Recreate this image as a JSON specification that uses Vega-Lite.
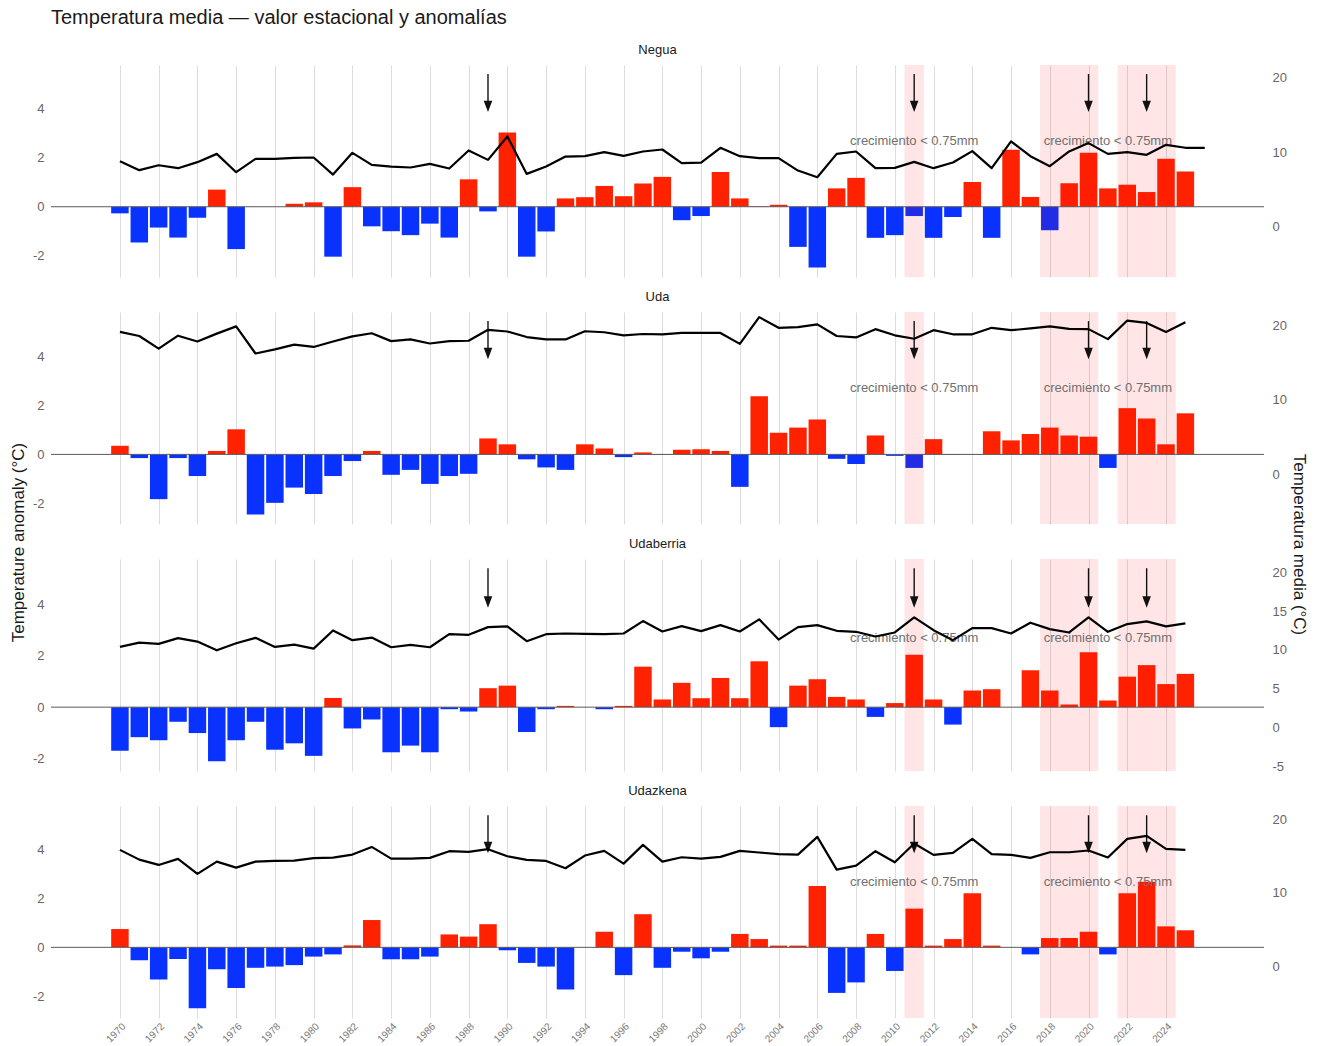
{
  "$schema": "https://vega.github.io/schema/vega-lite/v6.json",
  "padding": {"left": 9, "top": 8, "right": 5, "bottom": 2},
  "title": {"text": "Temperatura media — valor estacional y anomalías", "anchor": "start", "fontSize": 20, "fontWeight": "normal", "color": "#1a1a1a", "dx": 42, "offset": 16},
  "config": {
    "font": "Liberation Sans",
    "view": {"stroke": null},
    "title": {"fontSize": 13, "fontWeight": "normal", "color": "#1a1a1a", "offset": 8},
    "axis": {"labelFont": "Liberation Sans", "titleFont": "Liberation Sans"}
  },
  "spacing": 35,
  "bounds": "flush",
  "datasets": {
    "series": [
      {"s":"Negua","yr":1970,"a":-0.27,"t":8.78},{"s":"Negua","yr":1971,"a":-1.46,"t":7.57},{"s":"Negua","yr":1972,"a":-0.85,"t":8.24},{"s":"Negua","yr":1973,"a":-1.26,"t":7.84},{"s":"Negua","yr":1974,"a":-0.45,"t":8.65},{"s":"Negua","yr":1975,"a":0.70,"t":9.77},{"s":"Negua","yr":1976,"a":-1.73,"t":7.30},{"s":"Negua","yr":1977,"a":0.0,"t":9.10},{"s":"Negua","yr":1978,"a":0.0,"t":9.10},{"s":"Negua","yr":1979,"a":0.12,"t":9.23},
      {"s":"Negua","yr":1980,"a":0.18,"t":9.28},{"s":"Negua","yr":1981,"a":-2.04,"t":6.98},{"s":"Negua","yr":1982,"a":0.80,"t":9.91},{"s":"Negua","yr":1983,"a":-0.80,"t":8.29},{"s":"Negua","yr":1984,"a":-1.00,"t":8.06},{"s":"Negua","yr":1985,"a":-1.16,"t":7.93},{"s":"Negua","yr":1986,"a":-0.69,"t":8.42},{"s":"Negua","yr":1987,"a":-1.26,"t":7.79},{"s":"Negua","yr":1988,"a":1.12,"t":10.23},{"s":"Negua","yr":1989,"a":-0.19,"t":8.96},
      {"s":"Negua","yr":1990,"a":3.03,"t":12.12},{"s":"Negua","yr":1991,"a":-2.04,"t":7.07},{"s":"Negua","yr":1992,"a":-1.01,"t":8.06},{"s":"Negua","yr":1993,"a":0.34,"t":9.41},{"s":"Negua","yr":1994,"a":0.39,"t":9.46},{"s":"Negua","yr":1995,"a":0.85,"t":10.00},{"s":"Negua","yr":1996,"a":0.43,"t":9.50},{"s":"Negua","yr":1997,"a":0.95,"t":10.09},{"s":"Negua","yr":1998,"a":1.22,"t":10.36},{"s":"Negua","yr":1999,"a":-0.55,"t":8.51},
      {"s":"Negua","yr":2000,"a":-0.38,"t":8.60},{"s":"Negua","yr":2001,"a":1.42,"t":10.59},{"s":"Negua","yr":2002,"a":0.34,"t":9.46},{"s":"Negua","yr":2003,"a":0.02,"t":9.19},{"s":"Negua","yr":2004,"a":0.08,"t":9.19},{"s":"Negua","yr":2005,"a":-1.64,"t":7.52},{"s":"Negua","yr":2006,"a":-2.48,"t":6.62},{"s":"Negua","yr":2007,"a":0.75,"t":9.77},{"s":"Negua","yr":2008,"a":1.18,"t":10.09},{"s":"Negua","yr":2009,"a":-1.27,"t":7.84},
      {"s":"Negua","yr":2010,"a":-1.16,"t":7.88},{"s":"Negua","yr":2011,"a":-0.38,"t":8.69},{"s":"Negua","yr":2012,"a":-1.27,"t":7.84},{"s":"Negua","yr":2013,"a":-0.42,"t":8.60},{"s":"Negua","yr":2014,"a":1.01,"t":10.14},{"s":"Negua","yr":2015,"a":-1.27,"t":7.84},{"s":"Negua","yr":2016,"a":2.33,"t":11.44},{"s":"Negua","yr":2017,"a":0.40,"t":9.46},{"s":"Negua","yr":2018,"a":-0.96,"t":8.11},{"s":"Negua","yr":2019,"a":0.96,"t":10.09},
      {"s":"Negua","yr":2020,"a":2.21,"t":11.22},{"s":"Negua","yr":2021,"a":0.75,"t":9.77},{"s":"Negua","yr":2022,"a":0.90,"t":10.00},{"s":"Negua","yr":2023,"a":0.60,"t":9.64},{"s":"Negua","yr":2024,"a":1.96,"t":10.99},{"s":"Negua","yr":2025,"a":1.44,"t":10.59},{"s":"Negua","yr":2026,"a":null,"t":10.59},

      {"s":"Uda","yr":1970,"a":0.35,"t":19.08},{"s":"Uda","yr":1971,"a":-0.15,"t":18.53},{"s":"Uda","yr":1972,"a":-1.82,"t":16.83},{"s":"Uda","yr":1973,"a":-0.15,"t":18.57},{"s":"Uda","yr":1974,"a":-0.88,"t":17.79},{"s":"Uda","yr":1975,"a":0.14,"t":18.85},{"s":"Uda","yr":1976,"a":1.02,"t":19.82},{"s":"Uda","yr":1977,"a":-2.44,"t":16.18},{"s":"Uda","yr":1978,"a":-1.97,"t":16.74},{"s":"Uda","yr":1979,"a":-1.35,"t":17.38},
      {"s":"Uda","yr":1980,"a":-1.61,"t":17.06},{"s":"Uda","yr":1981,"a":-0.88,"t":17.79},{"s":"Uda","yr":1982,"a":-0.27,"t":18.48},{"s":"Uda","yr":1983,"a":0.14,"t":18.90},{"s":"Uda","yr":1984,"a":-0.83,"t":17.84},{"s":"Uda","yr":1985,"a":-0.63,"t":18.07},{"s":"Uda","yr":1986,"a":-1.20,"t":17.52},{"s":"Uda","yr":1987,"a":-0.88,"t":17.84},{"s":"Uda","yr":1988,"a":-0.79,"t":17.89},{"s":"Uda","yr":1989,"a":0.65,"t":19.36},
      {"s":"Uda","yr":1990,"a":0.41,"t":19.13},{"s":"Uda","yr":1991,"a":-0.20,"t":18.39},{"s":"Uda","yr":1992,"a":-0.53,"t":18.07},{"s":"Uda","yr":1993,"a":-0.63,"t":18.07},{"s":"Uda","yr":1994,"a":0.41,"t":19.17},{"s":"Uda","yr":1995,"a":0.24,"t":19.03},{"s":"Uda","yr":1996,"a":-0.11,"t":18.62},{"s":"Uda","yr":1997,"a":0.08,"t":18.80},{"s":"Uda","yr":1998,"a":-0.02,"t":18.76},{"s":"Uda","yr":1999,"a":0.19,"t":18.94},
      {"s":"Uda","yr":2000,"a":0.21,"t":18.94},{"s":"Uda","yr":2001,"a":0.14,"t":18.94},{"s":"Uda","yr":2002,"a":-1.32,"t":17.47},{"s":"Uda","yr":2003,"a":2.36,"t":21.06},{"s":"Uda","yr":2004,"a":0.88,"t":19.63},{"s":"Uda","yr":2005,"a":1.09,"t":19.72},{"s":"Uda","yr":2006,"a":1.42,"t":20.09},{"s":"Uda","yr":2007,"a":-0.18,"t":18.53},{"s":"Uda","yr":2008,"a":-0.39,"t":18.34},{"s":"Uda","yr":2009,"a":0.77,"t":19.45},
      {"s":"Uda","yr":2010,"a":-0.06,"t":18.62},{"s":"Uda","yr":2011,"a":-0.55,"t":18.16},{"s":"Uda","yr":2012,"a":0.62,"t":19.31},{"s":"Uda","yr":2013,"a":-0.02,"t":18.76},{"s":"Uda","yr":2014,"a":0.01,"t":18.76},{"s":"Uda","yr":2015,"a":0.94,"t":19.63},{"s":"Uda","yr":2016,"a":0.57,"t":19.31},{"s":"Uda","yr":2017,"a":0.83,"t":19.54},{"s":"Uda","yr":2018,"a":1.09,"t":19.82},{"s":"Uda","yr":2019,"a":0.77,"t":19.49},
      {"s":"Uda","yr":2020,"a":0.72,"t":19.45},{"s":"Uda","yr":2021,"a":-0.55,"t":18.11},{"s":"Uda","yr":2022,"a":1.88,"t":20.60},{"s":"Uda","yr":2023,"a":1.46,"t":20.28},{"s":"Uda","yr":2024,"a":0.41,"t":19.08},{"s":"Uda","yr":2025,"a":1.67,"t":20.37},

      {"s":"Udaberria","yr":1970,"a":-1.70,"t":10.39},{"s":"Udaberria","yr":1971,"a":-1.17,"t":10.95},{"s":"Udaberria","yr":1972,"a":-1.29,"t":10.78},{"s":"Udaberria","yr":1973,"a":-0.57,"t":11.52},{"s":"Udaberria","yr":1974,"a":-1.01,"t":11.08},{"s":"Udaberria","yr":1975,"a":-2.11,"t":9.96},{"s":"Udaberria","yr":1976,"a":-1.29,"t":10.87},{"s":"Udaberria","yr":1977,"a":-0.57,"t":11.56},{"s":"Udaberria","yr":1978,"a":-1.66,"t":10.39},{"s":"Udaberria","yr":1979,"a":-1.41,"t":10.69},
      {"s":"Udaberria","yr":1980,"a":-1.90,"t":10.17},{"s":"Udaberria","yr":1981,"a":0.36,"t":12.51},{"s":"Udaberria","yr":1982,"a":-0.83,"t":11.26},{"s":"Udaberria","yr":1983,"a":-0.48,"t":11.60},{"s":"Udaberria","yr":1984,"a":-1.76,"t":10.35},{"s":"Udaberria","yr":1985,"a":-1.50,"t":10.65},{"s":"Udaberria","yr":1986,"a":-1.76,"t":10.35},{"s":"Udaberria","yr":1987,"a":-0.08,"t":12.03},{"s":"Udaberria","yr":1988,"a":-0.17,"t":11.95},{"s":"Udaberria","yr":1989,"a":0.74,"t":12.94},
      {"s":"Udaberria","yr":1990,"a":0.84,"t":13.03},{"s":"Udaberria","yr":1991,"a":-0.97,"t":11.13},{"s":"Udaberria","yr":1992,"a":-0.08,"t":12.03},{"s":"Udaberria","yr":1993,"a":0.05,"t":12.12},{"s":"Udaberria","yr":1994,"a":0.0,"t":12.08},{"s":"Udaberria","yr":1995,"a":-0.08,"t":12.03},{"s":"Udaberria","yr":1996,"a":0.05,"t":12.12},{"s":"Udaberria","yr":1997,"a":1.58,"t":13.72},{"s":"Udaberria","yr":1998,"a":0.30,"t":12.38},{"s":"Udaberria","yr":1999,"a":0.95,"t":13.07},
      {"s":"Udaberria","yr":2000,"a":0.35,"t":12.42},{"s":"Udaberria","yr":2001,"a":1.14,"t":13.20},{"s":"Udaberria","yr":2002,"a":0.35,"t":12.38},{"s":"Udaberria","yr":2003,"a":1.79,"t":13.94},{"s":"Udaberria","yr":2004,"a":-0.78,"t":11.34},{"s":"Udaberria","yr":2005,"a":0.84,"t":12.94},{"s":"Udaberria","yr":2006,"a":1.09,"t":13.20},{"s":"Udaberria","yr":2007,"a":0.40,"t":12.47},{"s":"Udaberria","yr":2008,"a":0.30,"t":12.34},{"s":"Udaberria","yr":2009,"a":-0.38,"t":11.73},
      {"s":"Udaberria","yr":2010,"a":0.16,"t":12.25},{"s":"Udaberria","yr":2011,"a":2.04,"t":14.20},{"s":"Udaberria","yr":2012,"a":0.30,"t":12.55},{"s":"Udaberria","yr":2013,"a":-0.68,"t":11.26},{"s":"Udaberria","yr":2014,"a":0.65,"t":12.81},{"s":"Udaberria","yr":2015,"a":0.70,"t":12.81},{"s":"Udaberria","yr":2016,"a":0.0,"t":12.12},{"s":"Udaberria","yr":2017,"a":1.44,"t":13.51},{"s":"Udaberria","yr":2018,"a":0.65,"t":12.68},{"s":"Udaberria","yr":2019,"a":0.10,"t":12.25},
      {"s":"Udaberria","yr":2020,"a":2.14,"t":14.20},{"s":"Udaberria","yr":2021,"a":0.26,"t":12.34},{"s":"Udaberria","yr":2022,"a":1.19,"t":13.33},{"s":"Udaberria","yr":2023,"a":1.64,"t":13.68},{"s":"Udaberria","yr":2024,"a":0.90,"t":13.03},{"s":"Udaberria","yr":2025,"a":1.30,"t":13.42},

      {"s":"Udazkena","yr":1970,"a":0.75,"t":15.84},{"s":"Udazkena","yr":1971,"a":-0.53,"t":14.52},{"s":"Udazkena","yr":1972,"a":-1.32,"t":13.80},{"s":"Udazkena","yr":1973,"a":-0.48,"t":14.62},{"s":"Udazkena","yr":1974,"a":-2.50,"t":12.58},{"s":"Udazkena","yr":1975,"a":-0.90,"t":14.25},{"s":"Udazkena","yr":1976,"a":-1.67,"t":13.44},{"s":"Udazkena","yr":1977,"a":-0.84,"t":14.25},{"s":"Udazkena","yr":1978,"a":-0.79,"t":14.34},{"s":"Udazkena","yr":1979,"a":-0.73,"t":14.39},
      {"s":"Udazkena","yr":1980,"a":-0.38,"t":14.71},{"s":"Udazkena","yr":1981,"a":-0.29,"t":14.80},{"s":"Udazkena","yr":1982,"a":0.08,"t":15.20},{"s":"Udazkena","yr":1983,"a":1.12,"t":16.24},{"s":"Udazkena","yr":1984,"a":-0.49,"t":14.66},{"s":"Udazkena","yr":1985,"a":-0.49,"t":14.66},{"s":"Udazkena","yr":1986,"a":-0.38,"t":14.75},{"s":"Udazkena","yr":1987,"a":0.53,"t":15.66},{"s":"Udazkena","yr":1988,"a":0.44,"t":15.57},{"s":"Udazkena","yr":1989,"a":0.95,"t":15.93},
      {"s":"Udazkena","yr":1990,"a":-0.12,"t":14.98},{"s":"Udazkena","yr":1991,"a":-0.64,"t":14.48},{"s":"Udazkena","yr":1992,"a":-0.79,"t":14.34},{"s":"Udazkena","yr":1993,"a":-1.73,"t":13.35},{"s":"Udazkena","yr":1994,"a":0.0,"t":15.07},{"s":"Udazkena","yr":1995,"a":0.64,"t":15.70},{"s":"Udazkena","yr":1996,"a":-1.14,"t":13.98},{"s":"Udazkena","yr":1997,"a":1.36,"t":16.52},{"s":"Udazkena","yr":1998,"a":-0.84,"t":14.25},{"s":"Udazkena","yr":1999,"a":-0.18,"t":14.84},
      {"s":"Udazkena","yr":2000,"a":-0.45,"t":14.66},{"s":"Udazkena","yr":2001,"a":-0.18,"t":14.89},{"s":"Udazkena","yr":2002,"a":0.55,"t":15.70},{"s":"Udazkena","yr":2003,"a":0.34,"t":15.48},{"s":"Udazkena","yr":2004,"a":0.07,"t":15.25},{"s":"Udazkena","yr":2005,"a":0.07,"t":15.20},{"s":"Udazkena","yr":2006,"a":2.52,"t":17.60},{"s":"Udazkena","yr":2007,"a":-1.87,"t":13.17},{"s":"Udazkena","yr":2008,"a":-1.44,"t":13.71},{"s":"Udazkena","yr":2009,"a":0.55,"t":15.66},
      {"s":"Udazkena","yr":2010,"a":-0.97,"t":14.16},{"s":"Udazkena","yr":2011,"a":1.59,"t":16.70},{"s":"Udazkena","yr":2012,"a":0.07,"t":15.16},{"s":"Udazkena","yr":2013,"a":0.34,"t":15.43},{"s":"Udazkena","yr":2014,"a":2.22,"t":17.33},{"s":"Udazkena","yr":2015,"a":0.07,"t":15.25},{"s":"Udazkena","yr":2016,"a":0.0,"t":15.16},{"s":"Udazkena","yr":2017,"a":-0.29,"t":14.75},{"s":"Udazkena","yr":2018,"a":0.38,"t":15.52},{"s":"Udazkena","yr":2019,"a":0.38,"t":15.52},
      {"s":"Udazkena","yr":2020,"a":0.64,"t":15.75},{"s":"Udazkena","yr":2021,"a":-0.29,"t":14.80},{"s":"Udazkena","yr":2022,"a":2.22,"t":17.33},{"s":"Udazkena","yr":2023,"a":2.69,"t":17.74},{"s":"Udazkena","yr":2024,"a":0.86,"t":15.97},{"s":"Udazkena","yr":2025,"a":0.70,"t":15.84}
    ],
    "bands": [{"x0": 2010.5, "x1": 2011.5}, {"x0": 2017.5, "x1": 2020.5}, {"x0": 2021.5, "x1": 2024.5}],
    "arrows": [{"yr": 1989}, {"yr": 2011}, {"yr": 2020}, {"yr": 2023}],
    "notes": [{"yr": 2011, "txt": "crecimiento < 0.75mm"}, {"yr": 2021, "txt": "crecimiento < 0.75mm"}]
  },
  "vconcat": [
    {
      "width": 1213, "height": 212,
      "title": {"text": "Negua"},
      "layer": [
        {"layer": [
          {"data": {"name": "series"}, "transform": [{"filter": "datum.s === 'Negua' && isValid(datum.a)"}],
           "mark": {"type": "bar", "width": 17.5},
           "encoding": {
             "x": {"field": "yr", "type": "quantitative", "scale": {"domain": [1966.7, 2028.8], "nice": false, "zero": false}, "axis": {"values": [1970,1972,1974,1976,1978,1980,1982,1984,1986,1988,1990,1992,1994,1996,1998,2000,2002,2004,2006,2008,2010,2012,2014,2016,2018,2020,2022,2024], "grid": true, "gridColor": "#dddddd", "labels": false, "ticks": false, "domain": false, "title": null}},
             "y": {"field": "a", "type": "quantitative", "scale": {"domain": [-2.87, 5.79], "nice": false, "zero": false}, "axis": {"values": [-2, -1, 0, 1, 2, 3, 4, 5], "labelExpr": "datum.value % 2 === 0 ? datum.value + '' : ''", "grid": true, "gridColor": "#e4e4e4", "gridOpacity": {"condition": {"test": "datum.value % 2 !== 0", "value": 1}, "value": 0}, "ticks": false, "domain": false, "labelColor": "#666666", "labelFontSize": 13, "labelPadding": 7, "title": null}},
             "y2": {"datum": 0},
             "color": {"condition": {"test": "datum.a >= 0", "value": "#ff2200"}, "value": "#0a32ff"}
           }},
          {"data": {"name": "bands"}, "mark": {"type": "rect", "color": "#ff0000", "opacity": 0.1},
           "encoding": {"x": {"field": "x0", "type": "quantitative"}, "x2": {"field": "x1"}}},
          {"data": {"values": [{}]}, "mark": {"type": "rule", "color": "#5a5a5a", "strokeWidth": 1},
           "encoding": {"y": {"datum": 0, "type": "quantitative"}}},
          {"data": {"name": "notes"}, "mark": {"type": "text", "fontSize": 13, "color": "#707070", "align": "center", "baseline": "middle"},
           "encoding": {"x": {"field": "yr", "type": "quantitative"}, "y": {"datum": 2.68, "type": "quantitative"}, "text": {"field": "txt"}}},
          {"data": {"name": "arrows"}, "mark": {"type": "rule", "color": "#111111", "strokeWidth": 1.4},
           "encoding": {"x": {"field": "yr", "type": "quantitative"}, "y": {"datum": 5.42, "type": "quantitative"}, "y2": {"datum": 4.25}}},
          {"data": {"name": "arrows"}, "mark": {"type": "point", "shape": "M-0.75,-1L0.75,-1L0,1Z", "filled": true, "color": "#111111", "opacity": 1, "size": 130},
           "encoding": {"x": {"field": "yr", "type": "quantitative"}, "y": {"datum": 4.1, "type": "quantitative"}}}
        ]},
        {"data": {"name": "series"}, "transform": [{"filter": "datum.s === 'Negua'"}],
         "mark": {"type": "line", "color": "#000000", "strokeWidth": 2.2, "strokeJoin": "round"},
         "encoding": {
           "x": {"field": "yr", "type": "quantitative"},
           "y": {"field": "t", "type": "quantitative", "scale": {"domain": [-6.83, 21.75], "nice": false, "zero": false}, "axis": {"orient": "right", "values": [0, 10, 20], "grid": false, "ticks": false, "domain": false, "labelColor": "#666666", "labelFontSize": 13, "labelPadding": 8, "title": null}}
         }}
      ],
      "resolve": {"scale": {"y": "independent"}, "axis": {"y": "independent"}}
    },
    {
      "width": 1213, "height": 212,
      "title": {"text": "Uda"},
      "layer": [
        {"layer": [
          {"data": {"name": "series"}, "transform": [{"filter": "datum.s === 'Uda' && isValid(datum.a)"}],
           "mark": {"type": "bar", "width": 17.5},
           "encoding": {
             "x": {"field": "yr", "type": "quantitative", "scale": {"domain": [1966.7, 2028.8], "nice": false, "zero": false}, "axis": {"values": [1970,1972,1974,1976,1978,1980,1982,1984,1986,1988,1990,1992,1994,1996,1998,2000,2002,2004,2006,2008,2010,2012,2014,2016,2018,2020,2022,2024], "grid": true, "gridColor": "#dddddd", "labels": false, "ticks": false, "domain": false, "title": null}},
             "y": {"field": "a", "type": "quantitative", "scale": {"domain": [-2.83, 5.79], "nice": false, "zero": false}, "axis": {"values": [-2, -1, 0, 1, 2, 3, 4, 5], "labelExpr": "datum.value % 2 === 0 ? datum.value + '' : ''", "grid": true, "gridColor": "#e4e4e4", "gridOpacity": {"condition": {"test": "datum.value % 2 !== 0", "value": 1}, "value": 0}, "ticks": false, "domain": false, "labelColor": "#666666", "labelFontSize": 13, "labelPadding": 7, "title": "Temperature anomaly (°C)", "titleFontSize": 17, "titleFontWeight": "normal", "titleColor": "#1a1a1a", "titleX": -33, "titleY": 230, "titleAngle": -90, "titleAlign": "center", "titleBaseline": "middle"}},
             "y2": {"datum": 0},
             "color": {"condition": {"test": "datum.a >= 0", "value": "#ff2200"}, "value": "#0a32ff"}
           }},
          {"data": {"name": "bands"}, "mark": {"type": "rect", "color": "#ff0000", "opacity": 0.1},
           "encoding": {"x": {"field": "x0", "type": "quantitative"}, "x2": {"field": "x1"}}},
          {"data": {"values": [{}]}, "mark": {"type": "rule", "color": "#5a5a5a", "strokeWidth": 1},
           "encoding": {"y": {"datum": 0, "type": "quantitative"}}},
          {"data": {"name": "notes"}, "mark": {"type": "text", "fontSize": 13, "color": "#707070", "align": "center", "baseline": "middle"},
           "encoding": {"x": {"field": "yr", "type": "quantitative"}, "y": {"datum": 2.68, "type": "quantitative"}, "text": {"field": "txt"}}},
          {"data": {"name": "arrows"}, "mark": {"type": "rule", "color": "#111111", "strokeWidth": 1.4},
           "encoding": {"x": {"field": "yr", "type": "quantitative"}, "y": {"datum": 5.42, "type": "quantitative"}, "y2": {"datum": 4.25}}},
          {"data": {"name": "arrows"}, "mark": {"type": "point", "shape": "M-0.75,-1L0.75,-1L0,1Z", "filled": true, "color": "#111111", "opacity": 1, "size": 130},
           "encoding": {"x": {"field": "yr", "type": "quantitative"}, "y": {"datum": 4.1, "type": "quantitative"}}}
        ]},
        {"data": {"name": "series"}, "transform": [{"filter": "datum.s === 'Uda'"}],
         "mark": {"type": "line", "color": "#000000", "strokeWidth": 2.2, "strokeJoin": "round"},
         "encoding": {
           "x": {"field": "yr", "type": "quantitative"},
           "y": {"field": "t", "type": "quantitative", "scale": {"domain": [-6.70, 21.75], "nice": false, "zero": false}, "axis": {"orient": "right", "values": [0, 10, 20], "grid": false, "ticks": false, "domain": false, "labelColor": "#666666", "labelFontSize": 13, "labelPadding": 8, "title": "Temperatura media (°C)", "titleFontSize": 17, "titleFontWeight": "normal", "titleColor": "#1a1a1a", "titleX": 34, "titleY": 232, "titleAngle": 90, "titleAlign": "center", "titleBaseline": "middle"}}
         }}
      ],
      "resolve": {"scale": {"y": "independent"}, "axis": {"y": "independent"}}
    },
    {
      "width": 1213, "height": 212,
      "title": {"text": "Udaberria"},
      "layer": [
        {"layer": [
          {"data": {"name": "series"}, "transform": [{"filter": "datum.s === 'Udaberria' && isValid(datum.a)"}],
           "mark": {"type": "bar", "width": 17.5},
           "encoding": {
             "x": {"field": "yr", "type": "quantitative", "scale": {"domain": [1966.7, 2028.8], "nice": false, "zero": false}, "axis": {"values": [1970,1972,1974,1976,1978,1980,1982,1984,1986,1988,1990,1992,1994,1996,1998,2000,2002,2004,2006,2008,2010,2012,2014,2016,2018,2020,2022,2024], "grid": true, "gridColor": "#dddddd", "labels": false, "ticks": false, "domain": false, "title": null}},
             "y": {"field": "a", "type": "quantitative", "scale": {"domain": [-2.49, 5.78], "nice": false, "zero": false}, "axis": {"values": [-2, -1, 0, 1, 2, 3, 4, 5], "labelExpr": "datum.value % 2 === 0 ? datum.value + '' : ''", "grid": true, "gridColor": "#e4e4e4", "gridOpacity": {"condition": {"test": "datum.value % 2 !== 0", "value": 1}, "value": 0}, "ticks": false, "domain": false, "labelColor": "#666666", "labelFontSize": 13, "labelPadding": 7, "title": null}},
             "y2": {"datum": 0},
             "color": {"condition": {"test": "datum.a >= 0", "value": "#ff2200"}, "value": "#0a32ff"}
           }},
          {"data": {"name": "bands"}, "mark": {"type": "rect", "color": "#ff0000", "opacity": 0.1},
           "encoding": {"x": {"field": "x0", "type": "quantitative"}, "x2": {"field": "x1"}}},
          {"data": {"values": [{}]}, "mark": {"type": "rule", "color": "#5a5a5a", "strokeWidth": 1},
           "encoding": {"y": {"datum": 0, "type": "quantitative"}}},
          {"data": {"name": "notes"}, "mark": {"type": "text", "fontSize": 13, "color": "#707070", "align": "center", "baseline": "middle"},
           "encoding": {"x": {"field": "yr", "type": "quantitative"}, "y": {"datum": 2.68, "type": "quantitative"}, "text": {"field": "txt"}}},
          {"data": {"name": "arrows"}, "mark": {"type": "rule", "color": "#111111", "strokeWidth": 1.4},
           "encoding": {"x": {"field": "yr", "type": "quantitative"}, "y": {"datum": 5.42, "type": "quantitative"}, "y2": {"datum": 4.25}}},
          {"data": {"name": "arrows"}, "mark": {"type": "point", "shape": "M-0.75,-1L0.75,-1L0,1Z", "filled": true, "color": "#111111", "opacity": 1, "size": 130},
           "encoding": {"x": {"field": "yr", "type": "quantitative"}, "y": {"datum": 4.1, "type": "quantitative"}}}
        ]},
        {"data": {"name": "series"}, "transform": [{"filter": "datum.s === 'Udaberria'"}],
         "mark": {"type": "line", "color": "#000000", "strokeWidth": 2.2, "strokeJoin": "round"},
         "encoding": {
           "x": {"field": "yr", "type": "quantitative"},
           "y": {"field": "t", "type": "quantitative", "scale": {"domain": [-5.58, 21.71], "nice": false, "zero": false}, "axis": {"orient": "right", "values": [-5, 0, 5, 10, 15, 20], "labelExpr": "datum.value + ''", "grid": false, "ticks": false, "domain": false, "labelColor": "#666666", "labelFontSize": 13, "labelPadding": 8, "title": null}}
         }}
      ],
      "resolve": {"scale": {"y": "independent"}, "axis": {"y": "independent"}}
    },
    {
      "width": 1213, "height": 212,
      "title": {"text": "Udazkena"},
      "layer": [
        {"layer": [
          {"data": {"name": "series"}, "transform": [{"filter": "datum.s === 'Udazkena' && isValid(datum.a)"}],
           "mark": {"type": "bar", "width": 17.5},
           "encoding": {
             "x": {"field": "yr", "type": "quantitative", "scale": {"domain": [1966.7, 2028.8], "nice": false, "zero": false}, "axis": {"values": [1970,1972,1974,1976,1978,1980,1982,1984,1986,1988,1990,1992,1994,1996,1998,2000,2002,2004,2006,2008,2010,2012,2014,2016,2018,2020,2022,2024], "grid": true, "gridColor": "#dddddd", "labels": true, "format": "d", "labelAngle": -45, "labelAlign": "right", "labelBaseline": "top", "labelFontSize": 10, "labelColor": "#777777", "labelPadding": 3, "labelOverlap": false, "labelFlush": false, "ticks": false, "domain": false, "title": null}},
             "y": {"field": "a", "type": "quantitative", "scale": {"domain": [-2.90, 5.80], "nice": false, "zero": false}, "axis": {"values": [-2, -1, 0, 1, 2, 3, 4, 5], "labelExpr": "datum.value % 2 === 0 ? datum.value + '' : ''", "grid": true, "gridColor": "#e4e4e4", "gridOpacity": {"condition": {"test": "datum.value % 2 !== 0", "value": 1}, "value": 0}, "ticks": false, "domain": false, "labelColor": "#666666", "labelFontSize": 13, "labelPadding": 7, "title": null}},
             "y2": {"datum": 0},
             "color": {"condition": {"test": "datum.a >= 0", "value": "#ff2200"}, "value": "#0a32ff"}
           }},
          {"data": {"name": "bands"}, "mark": {"type": "rect", "color": "#ff0000", "opacity": 0.1},
           "encoding": {"x": {"field": "x0", "type": "quantitative"}, "x2": {"field": "x1"}}},
          {"data": {"values": [{}]}, "mark": {"type": "rule", "color": "#5a5a5a", "strokeWidth": 1},
           "encoding": {"y": {"datum": 0, "type": "quantitative"}}},
          {"data": {"name": "notes"}, "mark": {"type": "text", "fontSize": 13, "color": "#707070", "align": "center", "baseline": "middle"},
           "encoding": {"x": {"field": "yr", "type": "quantitative"}, "y": {"datum": 2.68, "type": "quantitative"}, "text": {"field": "txt"}}},
          {"data": {"name": "arrows"}, "mark": {"type": "rule", "color": "#111111", "strokeWidth": 1.4},
           "encoding": {"x": {"field": "yr", "type": "quantitative"}, "y": {"datum": 5.42, "type": "quantitative"}, "y2": {"datum": 4.25}}},
          {"data": {"name": "arrows"}, "mark": {"type": "point", "shape": "M-0.75,-1L0.75,-1L0,1Z", "filled": true, "color": "#111111", "opacity": 1, "size": 130},
           "encoding": {"x": {"field": "yr", "type": "quantitative"}, "y": {"datum": 4.1, "type": "quantitative"}}}
        ]},
        {"data": {"name": "series"}, "transform": [{"filter": "datum.s === 'Udazkena'"}],
         "mark": {"type": "line", "color": "#000000", "strokeWidth": 2.2, "strokeJoin": "round"},
         "encoding": {
           "x": {"field": "yr", "type": "quantitative"},
           "y": {"field": "t", "type": "quantitative", "scale": {"domain": [-6.93, 21.78], "nice": false, "zero": false}, "axis": {"orient": "right", "values": [0, 10, 20], "grid": false, "ticks": false, "domain": false, "labelColor": "#666666", "labelFontSize": 13, "labelPadding": 8, "title": null}}
         }}
      ],
      "resolve": {"scale": {"y": "independent"}, "axis": {"y": "independent"}}
    }
  ]
}
